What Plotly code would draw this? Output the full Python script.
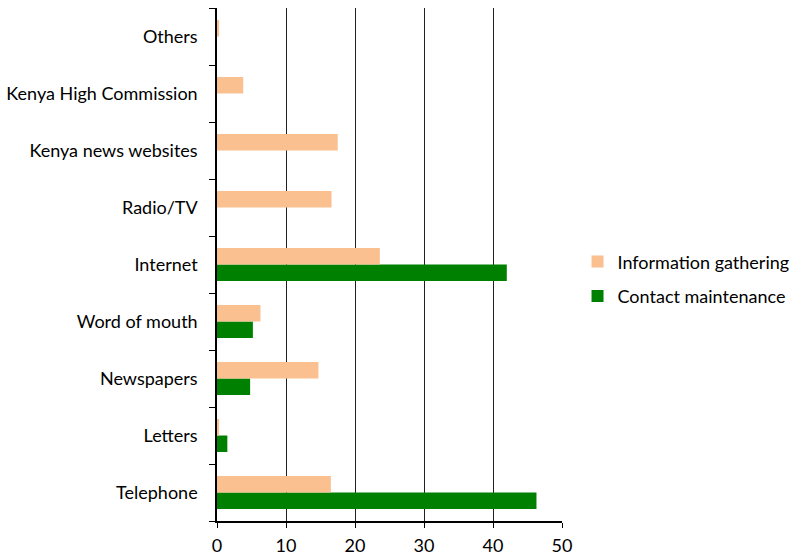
import plotly.graph_objects as go

categories = ["Telephone", "Letters", "Newspapers", "Word of mouth", "Internet",
              "Radio/TV", "Kenya news websites", "Kenya High Commission", "Others"]
info_gathering = [16.5, 0.3, 14.7, 6.3, 23.6, 16.6, 17.5, 3.8, 0.3]
contact_maintenance = [46.3, 1.5, 4.8, 5.2, 42.0, 0, 0, 0, 0]
x_ticks = [0, 10, 20, 30, 40, 50]

font_family = "Lato, Open Sans, sans-serif"

fig = go.Figure()
fig.add_trace(go.Bar(
    y=categories, x=contact_maintenance, orientation="h",
    name="Contact maintenance", legendgroup="cm", legendrank=2,
    marker=dict(color="#008000", line=dict(width=0)),
))
fig.add_trace(go.Bar(
    y=categories, x=info_gathering, orientation="h",
    name="Information gathering", legendgroup="ig", legendrank=1,
    marker=dict(color="#FAC090", line=dict(width=0)),
))

fig.update_layout(
    width=797, height=556,
    margin=dict(l=217, r=235, t=8, b=35, autoexpand=False),
    paper_bgcolor="white", plot_bgcolor="white",
    barmode="group", bargap=0.42, bargroupgap=0,
    font=dict(family=font_family, size=18, color="#000000"),
    legend=dict(x=1.045, y=0.472, xanchor="left", yanchor="middle",
                traceorder="grouped", font=dict(size=18),
                itemsizing="constant", tracegroupgap=8,
                bgcolor="rgba(0,0,0,0)"),
    showlegend=True,
)
fig.update_xaxes(
    range=[0, 50], tickvals=x_ticks, ticktext=[str(v) for v in x_ticks],
    showgrid=True, gridcolor="#202020", gridwidth=1,
    showline=True, linecolor="#000000", linewidth=1.5,
    ticks="outside", ticklen=5, tickcolor="#000000",
    zeroline=False, tickfont=dict(size=18), automargin=False,
    ticklabelstandoff=3,
)
fig.update_yaxes(
    type="category", categoryorder="array", categoryarray=categories,
    showgrid=False, showline=True, linecolor="#000000", linewidth=1.5,
    ticks="outside", ticklen=6, tickcolor="#000000", tickson="boundaries",
    ticklabelstandoff=14, tickfont=dict(size=18), automargin=False,
)

fig.write_html("out.html", config={"displayModeBar": False},
               post_script="document.body.style.margin='0px';")
